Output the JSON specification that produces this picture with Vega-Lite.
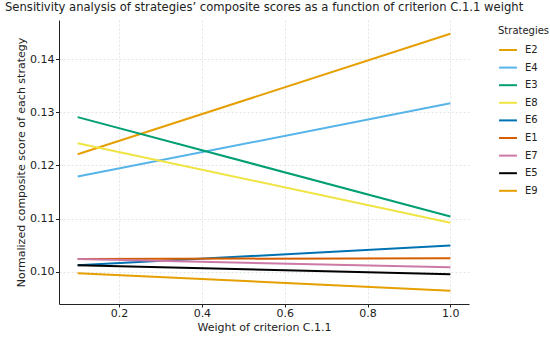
{
  "$schema": "https://vega.github.io/schema/vega-lite/v6.json",
  "width": 410,
  "height": 284,
  "autosize": {"type": "none"},
  "padding": {"left": 59, "top": 20, "right": 81, "bottom": 33},
  "background": "white",
  "config": {
    "font": "DejaVu Sans",
    "view": {"stroke": null},
    "axis": {"labelFont": "DejaVu Sans", "titleFont": "DejaVu Sans", "labelColor": "#222", "titleColor": "#222", "titleFontWeight": "normal", "labelFontSize": 11, "titleFontSize": 11, "domainColor": "#222", "domainWidth": 1, "tickColor": "#222", "tickSize": 3.5, "labelPadding": 1.5, "gridColor": "#dddddd", "gridDash": [2, 2], "gridWidth": 0.8}
  },
  "title": {"text": "Sensitivity analysis of strategies’ composite scores as a function of criterion C.1.1 weight", "anchor": "start", "frame": "group", "dx": -54, "offset": 6, "fontSize": 11.6, "fontWeight": "normal", "font": "DejaVu Sans", "color": "#222"},
  "data": {"values": [
    {"w": 0.1, "s": 0.1221, "strategy": "E2"}, {"w": 1.0, "s": 0.1448, "strategy": "E2"},
    {"w": 0.1, "s": 0.1179, "strategy": "E4"}, {"w": 1.0, "s": 0.1317, "strategy": "E4"},
    {"w": 0.1, "s": 0.1291, "strategy": "E3"}, {"w": 1.0, "s": 0.1104, "strategy": "E3"},
    {"w": 0.1, "s": 0.1242, "strategy": "E8"}, {"w": 1.0, "s": 0.1092, "strategy": "E8"},
    {"w": 0.1, "s": 0.1012, "strategy": "E6"}, {"w": 1.0, "s": 0.1049, "strategy": "E6"},
    {"w": 0.1, "s": 0.1024, "strategy": "E1"}, {"w": 1.0, "s": 0.1025, "strategy": "E1"},
    {"w": 0.1, "s": 0.1024, "strategy": "E7"}, {"w": 1.0, "s": 0.1008, "strategy": "E7"},
    {"w": 0.1, "s": 0.1012, "strategy": "E5"}, {"w": 1.0, "s": 0.0995, "strategy": "E5"},
    {"w": 0.1, "s": 0.0997, "strategy": "E9"}, {"w": 1.0, "s": 0.0964, "strategy": "E9"}
  ]},
  "mark": {"type": "line", "strokeWidth": 2},
  "encoding": {
    "x": {"field": "w", "type": "quantitative", "title": "Weight of criterion C.1.1",
      "scale": {"domain": [0.055, 1.045], "nice": false, "zero": false},
      "axis": {"values": [0.2, 0.4, 0.6, 0.8, 1.0], "format": ".1f", "titlePadding": 3, "tickSize": 3, "labelPadding": 0}},
    "y": {"field": "s", "type": "quantitative", "title": "Normalized composite score of each strategy",
      "scale": {"domain": [0.0939, 0.1474], "nice": false, "zero": false},
      "axis": {"values": [0.10, 0.11, 0.12, 0.13, 0.14], "format": ".2f", "titlePadding": 3}},
    "color": {"field": "strategy", "type": "nominal",
      "scale": {"domain": ["E2", "E4", "E3", "E8", "E6", "E1", "E7", "E5", "E9"],
        "range": ["#E69F00", "#56B4E9", "#009E73", "#F0E442", "#0072B2", "#D55E00", "#CC79A7", "#000000", "#E69F00"]},
      "legend": {"title": "Strategies", "orient": "none", "legendX": 439, "legendY": 6, "symbolType": "stroke", "symbolStrokeWidth": 2, "symbolSize": 320, "labelFontSize": 10, "titleFontSize": 10, "titleFontWeight": "normal", "titleColor": "#222", "labelColor": "#222", "labelOffset": 7, "rowPadding": 2.6, "titlePadding": 4}}
  }
}
